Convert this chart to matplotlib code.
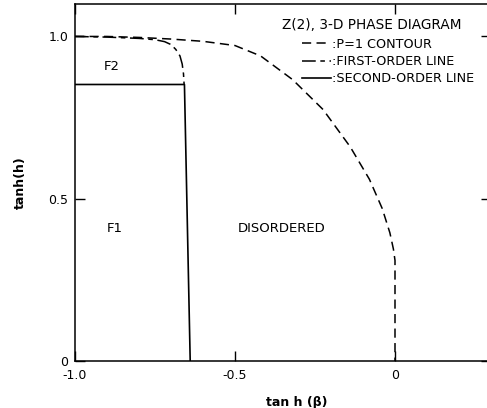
import numpy as np
import matplotlib
matplotlib.use("Agg")
import matplotlib.pyplot as plt

plt.rcParams['font.family'] = ['DejaVu Sans']
plt.rcParams['axes.unicode_minus'] = False

# --- data ---
# P=1 contour (dashed)
p1_x = [-1.0, -0.9, -0.8, -0.7, -0.6, -0.5, -0.42, -0.32, -0.225, -0.14,
        -0.08, -0.04, -0.016, -0.005, 0.0, 0.0]
p1_y = [1.0, 1.0, 0.997, 0.992, 0.985, 0.972, 0.94, 0.867, 0.775, 0.66,
        0.56, 0.47, 0.395, 0.345, 0.31, 0.0]

# first-order line (dash-dot)
fo_x = [-1.0, -0.9, -0.8, -0.75, -0.72, -0.70, -0.685, -0.672, -0.665, -0.661, -0.659]
fo_y = [1.0, 0.998, 0.994, 0.99, 0.984, 0.975, 0.96, 0.94, 0.915, 0.885, 0.852]

# second-order line (solid)
so_x = [-1.0, -0.658, -0.64]
so_y = [0.852, 0.852, 0.0]

xticks = [-1.0, -0.5, 0.0]
xticklabels = ['-1.0', '-0.5', '0']
yticks = [0.0, 0.5, 1.0]
yticklabels = ['0', '0.5', '1.0']

region_names = ['F2', 'F1', 'DISORDERED']
region_x = [-0.885, -0.875, -0.353]
region_y = [0.907, 0.407, 0.407]

legend_labels = [':P=1 CONTOUR', ':FIRST-ORDER LINE', ':SECOND-ORDER LINE']

# --- figure ---
fig = plt.figure(figsize=(4.87, 4.08), dpi=100)
ax = fig.add_axes([75/487, 1 - 361/408, 416/487, 357/408])

l1, = ax.plot(p1_x, p1_y, color='black', lw=1.1, linestyle=(0, (6, 3.5)))
l2, = ax.plot(fo_x, fo_y, color='black', lw=1.1, linestyle=(0, (9, 3, 3, 3)))
l3, = ax.plot(so_x, so_y, color='black', lw=1.2)

for name, x, y in zip(region_names, region_x, region_y):
    ax.text(x, y, name, ha='center', va='center', fontsize=9.5)

ax.set_xlim(-1.0, 0.3)
ax.set_ylim(0.0, 1.1)
ax.set_xticks(xticks)
ax.set_xticklabels(xticklabels)
ax.set_yticks(yticks)
ax.set_yticklabels(yticklabels)
ax.tick_params(direction='in', length=7, width=1, top=True, right=True,
               labelsize=9)
ax.tick_params(axis='x', pad=6)
ax.tick_params(axis='y', pad=5)
for s in ax.spines.values():
    s.set_linewidth(1.1)

ax.set_xlabel('tan h (β)', fontsize=9, fontweight='bold')
ax.xaxis.set_label_coords(0.534, -0.098)
ax.set_ylabel('tanh(h)', fontsize=9, fontweight='bold')
ax.yaxis.set_label_coords(-0.115, 0.5)

ax.text(0.498, 0.941, 'Z(2), 3-D PHASE DIAGRAM', transform=ax.transAxes,
        ha='left', va='center', fontsize=9.8)
ax.legend([l1, l2, l3], legend_labels, loc='upper left',
          bbox_to_anchor=(0.545, 0.905), frameon=False, fontsize=9.2,
          handlelength=2.3, handletextpad=0.1, labelspacing=0.32,
          borderpad=0, borderaxespad=0)

fig.savefig('out.png', dpi=100)
